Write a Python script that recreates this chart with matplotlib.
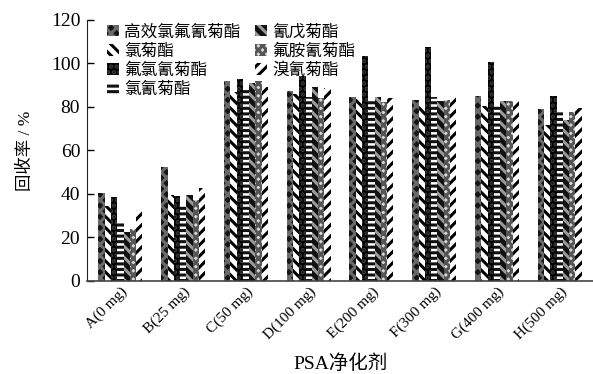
import matplotlib
matplotlib.use("Agg")
import matplotlib.pyplot as plt
import numpy as np

plt.rcParams['font.family'] = ['Liberation Serif', 'Noto Sans CJK SC', 'DejaVu Sans']
plt.rcParams['hatch.linewidth'] = 2.2

categories = ["A(0 mg)", "B(25 mg)", "C(50 mg)", "D(100 mg)", "E(200 mg)",
              "F(300 mg)", "G(400 mg)", "H(500 mg)"]
series_names = ["高效氯氟氰菊酯", "氯菊酯", "氟氯氰菊酯", "氯氰菊酯",
                "氰戊菊酯", "氟胺氰菊酯", "溴氰菊酯"]
s1 = [40.5, 52.5, 92.0, 87.5, 84.5, 83.0, 85.0, 79.0]
s2 = [34.5, 39.5, 87.0, 86.0, 83.5, 81.0, 80.5, 71.5]
s3 = [38.5, 39.0, 93.0, 94.0, 103.5, 107.5, 100.5, 85.0]
s4 = [27.5, 34.5, 88.0, 84.5, 82.5, 84.5, 81.0, 77.5]
s5 = [22.5, 39.5, 91.0, 89.0, 84.5, 82.5, 82.5, 74.0]
s6 = [24.0, 37.0, 92.0, 84.0, 82.0, 83.0, 82.5, 77.5]
s7 = [32.5, 42.5, 89.0, 88.5, 84.0, 85.0, 83.0, 79.5]
values = [s1, s2, s3, s4, s5, s6, s7]

styles = [
    dict(facecolor='#151515', edgecolor='#6a6a6a', hatch='xxx'),
    dict(facecolor='white', edgecolor='black', hatch='\\\\\\'),
    dict(facecolor='black', edgecolor='#3a3a3a', hatch='...'),
    dict(facecolor='white', edgecolor='#111111', hatch='---'),
    dict(facecolor='#111111', edgecolor='#9a9a9a', hatch='\\\\\\'),
    dict(facecolor='#d8d8d8', edgecolor='#555555', hatch='xxxx'),
    dict(facecolor='white', edgecolor='black', hatch='///'),
]

fig = plt.figure(figsize=(5.93, 3.74), dpi=100)
ax = fig.add_axes([0.147, 0.249, 0.853, 0.698])

x = np.arange(len(categories))
w = 0.1
n = len(values)
for i, (vals, st, name) in enumerate(zip(values, styles, series_names)):
    ax.bar(x + (i - (n - 1) / 2) * w, vals, width=w, linewidth=0, label=name, **st)

ax.set_xlim(-0.53, 7.53)
ax.set_ylim(0, 120)
ax.set_yticks([0, 20, 40, 60, 80, 100, 120])
ax.tick_params(axis='y', direction='in', length=5, labelsize=14, width=1, pad=5)
ax.tick_params(axis='x', direction='in', length=0, labelsize=11, pad=3)
ax.set_xticks(x)
ax.set_xticklabels(categories, rotation=45, ha='right', rotation_mode='anchor')
for s in ['top', 'right']:
    ax.spines[s].set_visible(False)
ax.spines['left'].set_color('#222222')
ax.spines['bottom'].set_color('#444444')
ax.spines['bottom'].set_linewidth(1.2)

ax.set_ylabel('回收率 / %', fontsize=12.5, labelpad=12)
ax.set_xlabel('PSA净化剂', fontsize=14, labelpad=9)

leg = ax.legend(ncol=2, loc='upper left', bbox_to_anchor=(0.01, 1.04), frameon=False,
                fontsize=12, handlelength=0.7, handleheight=0.7, handletextpad=0.3,
                columnspacing=0.9, labelspacing=0.2)

fig.savefig('out.png', dpi=100)
